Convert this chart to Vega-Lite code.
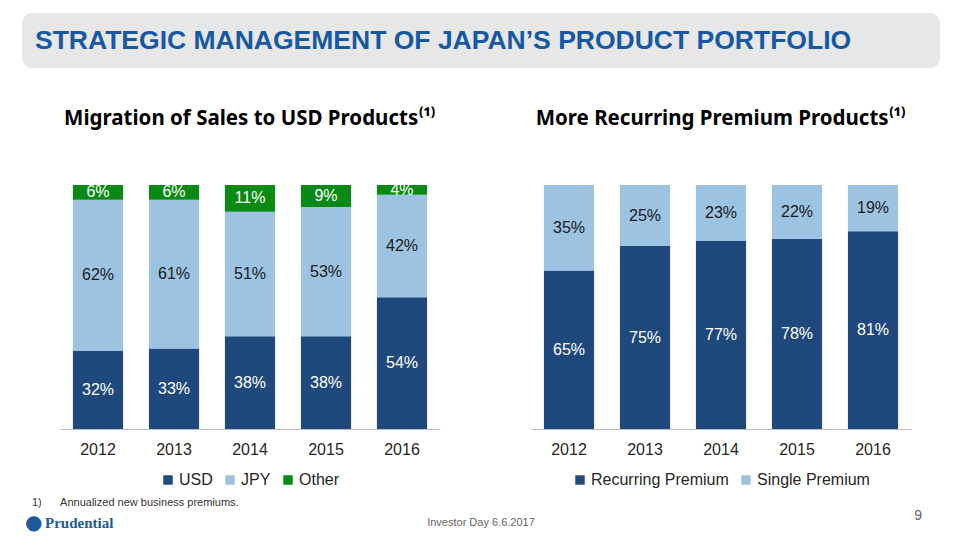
{
  "$schema": "https://vega.github.io/schema/vega-lite/v6.json",
  "background": "white",
  "padding": {"left": 22, "top": 13, "right": 20, "bottom": 0},
  "config": {
    "font": "Liberation Sans",
    "view": {"stroke": null},
    "axis": {"labelFont": "Liberation Sans"},
    "legend": {"labelFont": "Liberation Sans", "layout": {"bottom": {"anchor": "middle"}}}
  },
  "columns": 1,
  "align": "none",
  "spacing": 40,
  "concat": [
    {
      "width": 918,
      "height": 55,
      "view": {"fill": "#e7e7e7", "cornerRadius": 10, "stroke": null},
      "data": {"values": [{"slot": "start", "label": "STRATEGIC MANAGEMENT OF JAPAN’S PRODUCT PORTFOLIO"}]},
      "mark": {"type": "text", "align": "left", "baseline": "middle", "dx": 13, "fontSize": 26.5, "fontWeight": "bold", "color": "#1559a5", "font": "Liberation Sans"},
      "encoding": {
        "x": {"field": "slot", "type": "nominal", "scale": {"type": "point", "domain": ["start", "end"], "padding": 0}, "axis": null},
        "text": {"field": "label"}
      }
    },
    {
      "columns": 1,
      "align": "none",
      "spacing": 5,
      "concat": [
        {
          "spacing": 0,
          "hconcat": [
            {
              "width": 38,
              "height": 10,
              "view": {"fill": "#ffffff", "stroke": null},
              "data": {"values": []},
              "mark": {"type": "point", "opacity": 0},
              "encoding": {}
            },
            {
              "spacing": 91,
              "resolve": {"scale": {"color": "independent"}, "legend": {"color": "independent"}},
              "hconcat": [
                {
                  "width": 380,
                  "height": 244,
                  "title": {"text": "Migration of Sales to USD Products⁽¹⁾", "anchor": "middle", "fontSize": 20.5, "font": "Noto Sans", "fontWeight": "bold", "color": "#000000", "offset": 52},
                  "data": {"values": [
                    {"year": "2012", "cur": "USD", "share": 0.32, "ord": 1},
                    {"year": "2012", "cur": "JPY", "share": 0.62, "ord": 2},
                    {"year": "2012", "cur": "Other", "share": 0.06, "ord": 3},
                    {"year": "2013", "cur": "USD", "share": 0.33, "ord": 1},
                    {"year": "2013", "cur": "JPY", "share": 0.61, "ord": 2},
                    {"year": "2013", "cur": "Other", "share": 0.06, "ord": 3},
                    {"year": "2014", "cur": "USD", "share": 0.38, "ord": 1},
                    {"year": "2014", "cur": "JPY", "share": 0.51, "ord": 2},
                    {"year": "2014", "cur": "Other", "share": 0.11, "ord": 3},
                    {"year": "2015", "cur": "USD", "share": 0.38, "ord": 1},
                    {"year": "2015", "cur": "JPY", "share": 0.53, "ord": 2},
                    {"year": "2015", "cur": "Other", "share": 0.09, "ord": 3},
                    {"year": "2016", "cur": "USD", "share": 0.54, "ord": 1},
                    {"year": "2016", "cur": "JPY", "share": 0.42, "ord": 2},
                    {"year": "2016", "cur": "Other", "share": 0.04, "ord": 3}
                  ]},
                  "encoding": {
                    "x": {"field": "year", "type": "nominal", "scale": {"paddingInner": 0.34, "paddingOuter": 0.17},
                      "axis": {"title": null, "labelAngle": 0, "ticks": false, "labelPadding": 12, "labelFontSize": 16, "labelColor": "#262626", "domainColor": "#bfbfbf"}},
                    "y": {"field": "share", "type": "quantitative", "stack": "zero", "scale": {"domain": [0, 1]}, "axis": null},
                    "order": {"field": "ord", "type": "quantitative"}
                  },
                  "layer": [
                    {
                      "mark": {"type": "bar"},
                      "encoding": {
                        "color": {"field": "cur", "type": "nominal", "sort": ["USD", "JPY", "Other"],
                          "scale": {"domain": ["USD", "JPY", "Other"], "range": ["#1f497d", "#9cc3e2", "#0a8a14"]},
                          "legend": {"title": null, "orient": "bottom", "direction": "horizontal", "offset": 15, "labelFontSize": 16, "labelColor": "#262626", "labelOffset": 3, "symbolType": "square", "symbolSize": 90, "symbolStrokeWidth": 0, "columnPadding": 9}}
                      }
                    },
                    {
                      "mark": {"type": "text", "baseline": "middle", "fontSize": 16},
                      "encoding": {
                        "y": {"field": "share", "type": "quantitative", "stack": "zero", "bandPosition": 0.5},
                        "detail": {"field": "cur"},
                        "text": {"field": "share", "type": "quantitative", "format": ".0%"},
                        "color": {"condition": {"test": "datum.cur === 'JPY'", "value": "#1a1a1a"}, "value": "#ffffff"}
                      }
                    }
                  ]
                },
                {
                  "width": 380,
                  "height": 244,
                  "title": {"text": "More Recurring Premium Products⁽¹⁾", "anchor": "middle", "fontSize": 20.5, "font": "Noto Sans", "fontWeight": "bold", "color": "#000000", "offset": 56},
                  "data": {"values": [
                    {"year": "2012", "kind": "Recurring Premium", "share": 0.65, "ord": 1},
                    {"year": "2012", "kind": "Single Premium", "share": 0.35, "ord": 2},
                    {"year": "2013", "kind": "Recurring Premium", "share": 0.75, "ord": 1},
                    {"year": "2013", "kind": "Single Premium", "share": 0.25, "ord": 2},
                    {"year": "2014", "kind": "Recurring Premium", "share": 0.77, "ord": 1},
                    {"year": "2014", "kind": "Single Premium", "share": 0.23, "ord": 2},
                    {"year": "2015", "kind": "Recurring Premium", "share": 0.78, "ord": 1},
                    {"year": "2015", "kind": "Single Premium", "share": 0.22, "ord": 2},
                    {"year": "2016", "kind": "Recurring Premium", "share": 0.81, "ord": 1},
                    {"year": "2016", "kind": "Single Premium", "share": 0.19, "ord": 2}
                  ]},
                  "encoding": {
                    "x": {"field": "year", "type": "nominal", "scale": {"paddingInner": 0.34, "paddingOuter": 0.17},
                      "axis": {"title": null, "labelAngle": 0, "ticks": false, "labelPadding": 12, "labelFontSize": 16, "labelColor": "#262626", "domainColor": "#bfbfbf"}},
                    "y": {"field": "share", "type": "quantitative", "stack": "zero", "scale": {"domain": [0, 1]}, "axis": null},
                    "order": {"field": "ord", "type": "quantitative"}
                  },
                  "layer": [
                    {
                      "mark": {"type": "bar"},
                      "encoding": {
                        "color": {"field": "kind", "type": "nominal", "sort": ["Recurring Premium", "Single Premium"],
                          "scale": {"domain": ["Recurring Premium", "Single Premium"], "range": ["#1f497d", "#9cc3e2"]},
                          "legend": {"title": null, "orient": "bottom", "direction": "horizontal", "offset": 15, "labelFontSize": 16, "labelColor": "#262626", "labelOffset": 3, "symbolType": "square", "symbolSize": 90, "symbolStrokeWidth": 0, "columnPadding": 9}}
                      }
                    },
                    {
                      "mark": {"type": "text", "baseline": "middle", "fontSize": 16},
                      "encoding": {
                        "y": {"field": "share", "type": "quantitative", "stack": "zero", "bandPosition": 0.5},
                        "detail": {"field": "kind"},
                        "text": {"field": "share", "type": "quantitative", "format": ".0%"},
                        "color": {"condition": {"test": "datum.kind === 'Single Premium'", "value": "#1a1a1a"}, "value": "#ffffff"}
                      }
                    }
                  ]
                }
              ]
            }
          ]
        },
        {
          "width": 918,
          "height": 40,
          "data": {"values": [
            {"slot": "left", "row": "r1", "label": "1)\u00a0\u00a0\u00a0\u00a0\u00a0\u00a0Annualized new business premiums.", "part": "note"},
            {"slot": "left", "row": "r2", "label": "●", "part": "icon"},
            {"slot": "left", "row": "r2", "label": "Prudential", "part": "brand"},
            {"slot": "center", "row": "r2", "label": "Investor Day 6.6.2017", "part": "event"},
            {"slot": "right", "row": "r2", "label": "9", "part": "page"}
          ]},
          "encoding": {
            "x": {"field": "slot", "type": "nominal", "scale": {"type": "point", "domain": ["left", "center", "right"], "padding": 0}, "axis": null},
            "y": {"field": "row", "type": "nominal", "scale": {"type": "point", "domain": ["r1", "r2"], "padding": 0.5}, "axis": null},
            "text": {"field": "label"}
          },
          "layer": [
            {
              "transform": [{"filter": "datum.part === 'note'"}],
              "mark": {"type": "text", "align": "left", "baseline": "middle", "dx": 10, "fontSize": 11, "color": "#333333"}
            },
            {
              "transform": [{"filter": "datum.part === 'icon'"}],
              "mark": {"type": "text", "align": "left", "baseline": "middle", "dx": 3, "fontSize": 20, "color": "#1c5a9c", "font": "DejaVu Sans"}
            },
            {
              "transform": [{"filter": "datum.part === 'brand'"}],
              "mark": {"type": "text", "align": "left", "baseline": "middle", "dx": 23, "fontSize": 15, "fontWeight": "bold", "color": "#1c5a9c", "font": "Liberation Serif"}
            },
            {
              "transform": [{"filter": "datum.part === 'event'"}],
              "mark": {"type": "text", "align": "center", "baseline": "middle", "fontSize": 11, "color": "#666666"}
            },
            {
              "transform": [{"filter": "datum.part === 'page'"}],
              "mark": {"type": "text", "align": "right", "baseline": "middle", "dx": -18, "dy": -7, "fontSize": 14, "color": "#666666"}
            }
          ]
        }
      ]
    }
  ]
}
